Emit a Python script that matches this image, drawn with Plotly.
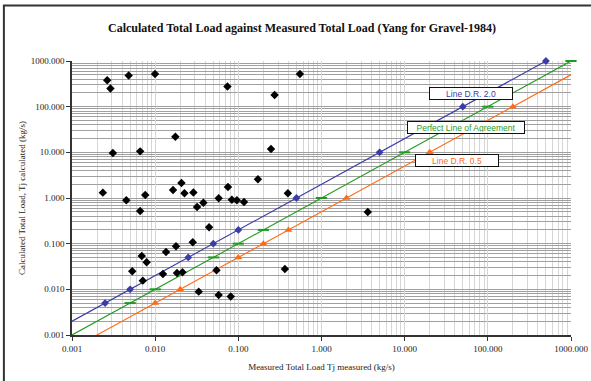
import plotly.graph_objects as go

# ---- Data ----
measured = [0.00265, 0.0029, 0.0048, 0.00996, 0.0031, 0.0066, 0.0175, 0.00235, 0.0045, 0.0076,
            0.0164, 0.0207, 0.0225, 0.0288, 0.058, 0.0066, 0.0319, 0.038, 0.0445, 0.0053,
            0.0069, 0.0079, 0.0071, 0.0124, 0.0135, 0.0178, 0.0183, 0.0213, 0.0283, 0.0334,
            0.0546, 0.058, 0.074, 0.273, 0.55, 0.247, 0.172, 0.075, 0.394, 0.0836,
            0.096, 0.117, 3.6, 0.363, 0.081]
calculated = [378, 249, 479, 519, 9.7, 10.5, 22, 1.31, 0.89, 1.16,
              1.50, 2.14, 1.27, 1.32, 0.99, 0.52, 0.636, 0.79, 0.229, 0.0248,
              0.0537, 0.039, 0.0155, 0.0217, 0.0658, 0.0877, 0.0228, 0.0236, 0.107, 0.0089,
              0.0261, 0.0075, 275, 180, 519, 11.8, 2.57, 1.74, 1.27, 0.92,
              0.89, 0.82, 0.494, 0.0279, 0.0070]

ref_loads = [0.005, 0.01, 0.05, 0.1, 0.2, 1, 10, 100, 1000]   # calculated values on reference lines
line_names = ["Line D.R. 2.0", "Perfect Line of Agreement", "Line D.R. 0.5"]
line_ratios = [2.0, 1.0, 0.5]
line_colors = ["#3c3ca8", "#1f9a1f", "#ff6a13"]
line_symbols = ["diamond", "line-ew", "triangle-up"]
line_extent = [1e-4, 1e4]

tick_vals = [0.001, 0.01, 0.1, 1, 10, 100, 1000]
tick_text = ["0.001", "0.010", "0.100", "1.000", "10.000", "100.000", "1000.000"]

title = "Calculated Total Load against Measured Total Load (Yang for Gravel-1984)"
x_title = "Measured Total Load Tj measured (kg/s)"
y_title = "Calculated Total Load, Tj calculated (kg/s)"

# ---- Figure ----
fig = go.Figure()
serif = "Liberation Serif, Times New Roman, serif"
sans = "Liberation Sans, Arial, sans-serif"
marker_sizes = {"diamond": 6, "line-ew": 8, "triangle-up": 7}

for name, r, c, s in zip(line_names, line_ratios, line_colors, line_symbols):
    fig.add_trace(go.Scatter(x=line_extent, y=[v * r for v in line_extent], mode="lines",
                             line=dict(color=c, width=1.1), hoverinfo="skip", showlegend=False))
    fig.add_trace(go.Scatter(x=[v / r for v in ref_loads], y=ref_loads, mode="markers", name=name,
                             marker=dict(symbol=s, color=c, size=marker_sizes[s],
                                         line=dict(color=c, width=2 if s == "line-ew" else 0)),
                             cliponaxis=(r < 1), showlegend=False))

fig.add_trace(go.Scatter(x=measured, y=calculated, mode="markers", name="Data",
                         marker=dict(symbol="diamond", color="black", size=6.5),
                         cliponaxis=False, showlegend=False))

axis_common = dict(type="log", range=[-3, 3], tickmode="array", tickvals=tick_vals, ticktext=tick_text,
                   showline=True, linecolor="#333", linewidth=1.5, ticks="outside", ticklen=4,
                   tickcolor="#333", tickfont=dict(family=serif, size=9, color="#222"),
                   zeroline=False, mirror=False)

fig.update_xaxes(**axis_common, gridcolor="#d6d6d6", gridwidth=1,
                 minor=dict(tickmode="linear", dtick="D1", showgrid=True, gridcolor="#d6d6d6", gridwidth=1, ticks=""),
                 title=dict(text=x_title, font=dict(family=serif, size=9, color="#222"), standoff=11))
fig.update_yaxes(**axis_common, gridcolor="#a0a0a0", gridwidth=1,
                 minor=dict(tickmode="linear", dtick="D1", showgrid=True, gridcolor="#a0a0a0", gridwidth=1, ticks=""),
                 title=dict(text=y_title, font=dict(family=serif, size=9, color="#222"), standoff=4))

annots = [("Line D.R. 2.0", 0.7986, 0.881, line_colors[0], 80),
          ("Perfect Line of Agreement", 0.789, 0.756, line_colors[1], 114),
          ("Line D.R. 0.5", 0.772, 0.6376, line_colors[2], 80)]
for text, ax, ay, col, w in annots:
    fig.add_annotation(text=text, xref="paper", yref="paper", x=ax, y=ay, showarrow=False,
                       xanchor="center", yanchor="middle", width=w, height=9,
                       font=dict(family=sans, size=8.5, color=col),
                       bgcolor="white", bordercolor="#111", borderwidth=1, borderpad=1)

# outer chart-area border (left and top visible)
fig.add_shape(type="rect", xref="paper", yref="paper", x0=-0.1365, x1=1.06, y0=-0.2, y1=1.203,
              line=dict(color="#333", width=2), fillcolor="rgba(0,0,0,0)", layer="above")

fig.update_layout(
    width=591, height=381,
    margin=dict(l=72, r=20, t=61, b=46, autoexpand=False),
    paper_bgcolor="white", plot_bgcolor="white",
    title=dict(text="<b>" + title + "</b>", xref="container", yref="container", x=0.511, y=0.9265,
               xanchor="center", yanchor="middle", font=dict(family=serif, size=12, color="#111")),
    showlegend=False,
)

fig.write_html("out.html", config={"displayModeBar": False},
               post_script="document.body.style.margin='0px';document.body.style.overflow='hidden';")
